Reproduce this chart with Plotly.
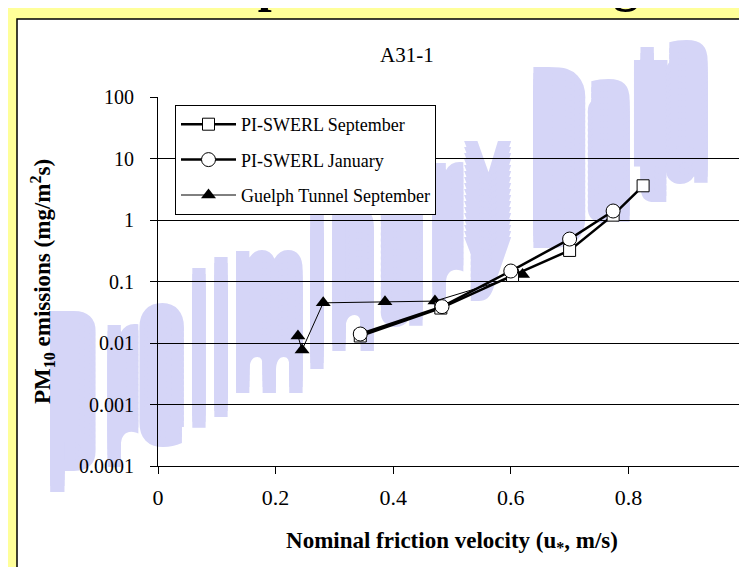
import plotly.graph_objects as go

# ---------------- data ----------------
sep_x = [0.344, 0.481, 0.603, 0.700, 0.774, 0.825]
sep_y = [0.013, 0.037, 0.125, 0.32, 1.2, 3.6]

jan_x = [0.344, 0.483, 0.600, 0.700, 0.774]
jan_y = [0.014, 0.039, 0.148, 0.49, 1.4]

gue_x = [0.238, 0.245, 0.281, 0.386, 0.471, 0.620]
gue_y = [0.013, 0.0077, 0.045, 0.047, 0.048, 0.13]

x_ticks = [0, 0.2, 0.4, 0.6, 0.8, 1]
x_tick_labels = ["0", "0.2", "0.4", "0.6", "0.8", "1"]
y_ticks = [0.0001, 0.001, 0.01, 0.1, 1, 10, 100]
y_tick_labels = ["0.0001", "0.001", "0.01", "0.1", "1", "10", "100"]

series_names = ["PI-SWERL September", "PI-SWERL January", "Guelph Tunnel September"]
chart_title = "A31-1"
slide_title = "Comparison of Testing Methods"
watermark = "Preliminary Data"

# ---------------- geometry ----------------
W, H = 747, 567
ML, MR, MT, MB = 150, 9, 89, 109
PW, PH = W - ML - MR, H - MT - MB

def px(x):
    return (x - ML) / PW

def py(y):
    return (H - MB - y) / PH

SERIF = "Liberation Serif, Times New Roman, serif"

fig = go.Figure()

fig.add_trace(go.Scatter(
    x=gue_x, y=gue_y, name=series_names[2], mode="lines+markers",
    line=dict(color="black", width=1),
    marker=dict(symbol="triangle-up", size=13, color="black"),
    legendrank=3, legendgroup="g3"))
fig.add_trace(go.Scatter(
    x=sep_x, y=sep_y, name=series_names[0], mode="lines+markers",
    line=dict(color="black", width=2.5),
    marker=dict(symbol="square", size=12, color="white",
                line=dict(color="black", width=1)),
    legendrank=1, legendgroup="g1"))
fig.add_trace(go.Scatter(
    x=jan_x, y=jan_y, name=series_names[1], mode="lines+markers",
    line=dict(color="black", width=2.5),
    marker=dict(symbol="circle", size=14, color="white",
                line=dict(color="black", width=1)),
    legendrank=2, legendgroup="g2"))

shapes = [
    # white chart panel with black border (extends past the right/bottom edge)
    dict(type="rect", xref="paper", yref="paper", layer="below",
         x0=px(9), x1=px(770), y0=py(590), y1=py(11),
         fillcolor="white", line=dict(color="black", width=1.5)),
]

# watermark: tall letters on a slanted baseline, drawn under the data.
# The tall look of the original WordArt is imitated with stacked text shadows.
WM_COLOR = "#D5D5F7"
wm_size = 84
wm_family = "Liberation Sans Narrow, DejaVu Sans Condensed, Liberation Sans, sans-serif"
wm_centers = [63, 112, 154, 191, 213, 261, 309, 345, 395, 437, 480, None, 550, 602, 643, 680]
base0, slope = 478, 0.5
for ch, cx in zip(watermark, wm_centers):
    if ch == " ":
        continue
    stretch = 120 if ch.isupper() else 96
    shadow = ", ".join("0px -%dpx 0px %s" % (k, WM_COLOR) for k in range(6, stretch + 1, 6))
    base = base0 - slope * (cx - wm_centers[0])
    cy = base - 0.35 * wm_size
    shapes.append(dict(
        type="rect", xref="paper", yref="paper", layer="below",
        x0=px(cx - 1), x1=px(cx + 1), y0=py(cy + 1), y1=py(cy - 1),
        line=dict(width=0), fillcolor="rgba(0,0,0,0)",
        label=dict(text="<b>" + ch + "</b>", textposition="middle center",
                   font=dict(family=wm_family, size=wm_size, color=WM_COLOR,
                             shadow=shadow))))

# grey right border of plot area
shapes.append(dict(type="line", xref="paper", yref="paper", x0=1, x1=1, y0=0, y1=1,
                   line=dict(color="#808080", width=1)))

annotations = [
    dict(text=chart_title, xref="paper", yref="paper", x=px(399), y=py(47),
         xanchor="center", yanchor="middle", showarrow=False,
         font=dict(family=SERIF, size=21, color="black")),
    dict(text="<b>" + slide_title + "</b>", xref="paper", yref="paper",
         x=px(145), y=py(6), xanchor="left", yanchor="bottom", showarrow=False,
         font=dict(family=SERIF, size=50, color="black")),
]

fig.update_layout(
    width=W, height=H,
    margin=dict(l=ML, r=MR, t=MT, b=MB, autoexpand=False),
    paper_bgcolor="#FFFF99", plot_bgcolor="rgba(0,0,0,0)",
    showlegend=True,
    legend=dict(x=px(167), y=py(97), xanchor="left", yanchor="top",
                bgcolor="white", bordercolor="black", borderwidth=1,
                font=dict(family=SERIF, size=18, color="black"),
                tracegroupgap=9, itemwidth=55),
    shapes=shapes, annotations=annotations,
    xaxis=dict(range=[0, 1], tickvals=x_ticks, ticktext=x_tick_labels,
               ticks="outside", ticklen=7, tickcolor="black",
               showline=True, linecolor="black", linewidth=1,
               showgrid=False, zeroline=False,
               tickfont=dict(family=SERIF, size=22, color="black"),
               ticklabelstandoff=5,
               title=dict(text="<b>Nominal friction velocity (u<sub>*</sub>, m/s)</b>",
                          font=dict(family=SERIF, size=23, color="black"),
                          standoff=22)),
    yaxis=dict(type="log", range=[-4, 2], tickvals=y_ticks, ticktext=y_tick_labels,
               ticks="outside", ticklen=7, tickcolor="black",
               showline=True, linecolor="black", linewidth=1,
               showgrid=True, gridcolor="black", gridwidth=1, zeroline=False,
               tickfont=dict(family=SERIF, size=20, color="black"),
               ticklabelstandoff=12,
               title=dict(text="<b>PM<sub>10</sub> emissions (mg/m<sup>2</sup>s)</b>",
                          font=dict(family=SERIF, size=23, color="black"),
                          standoff=21)),
)

fig.write_html("out.html")
